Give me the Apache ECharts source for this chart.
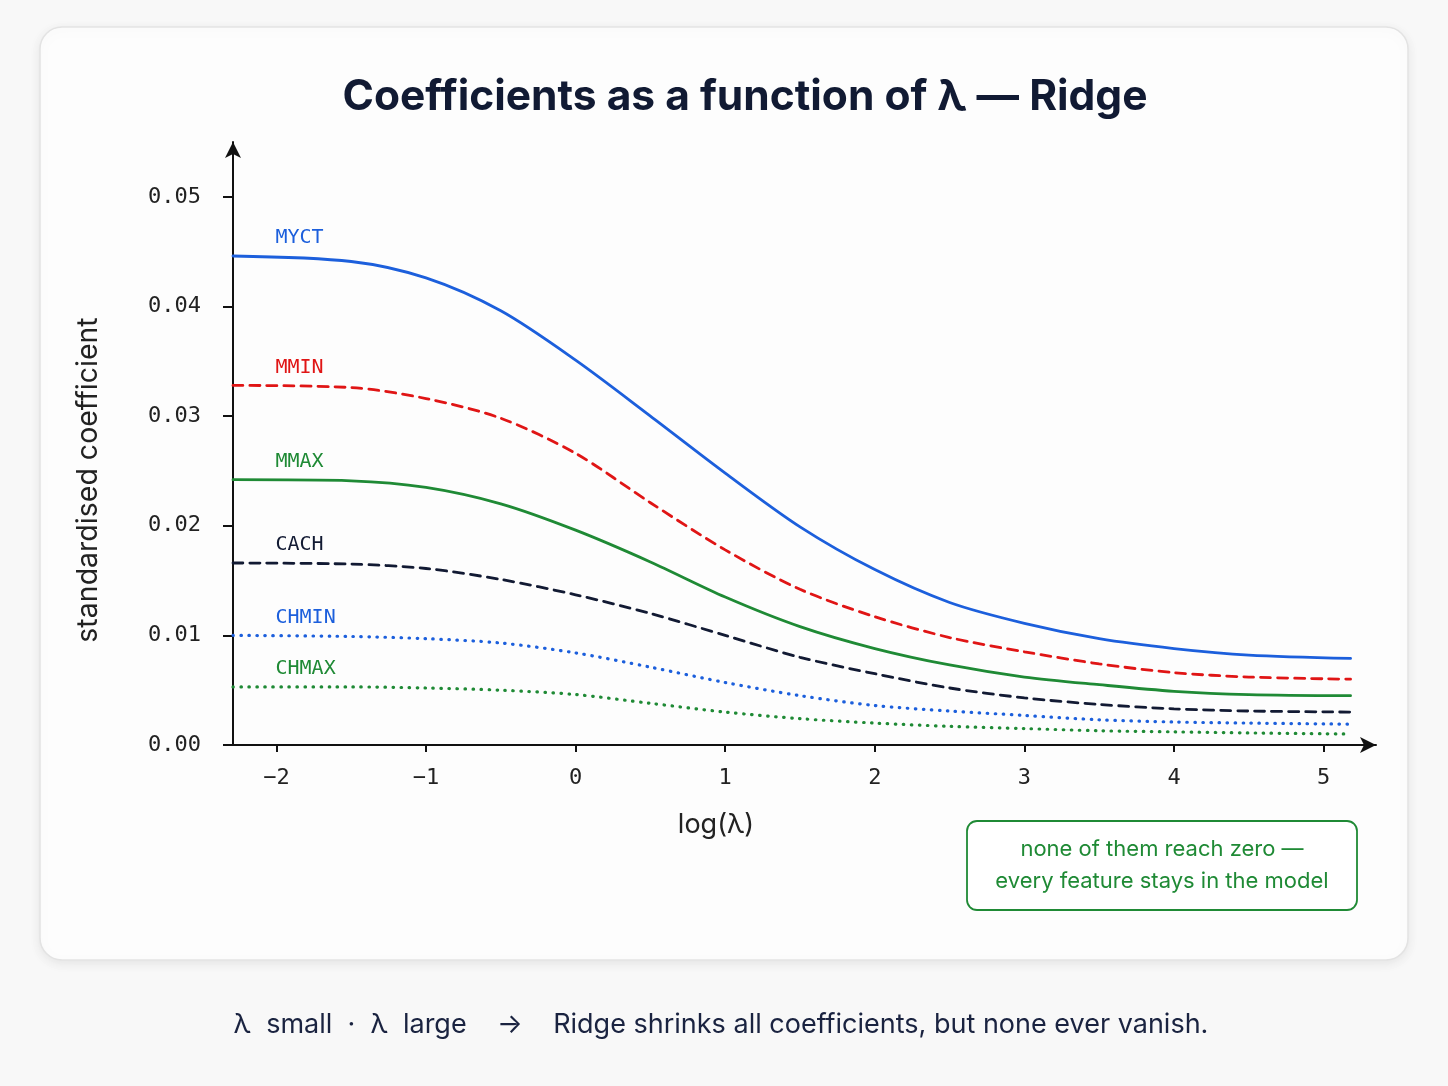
<!DOCTYPE html>
<html>
<head>
<meta charset="utf-8">
<script src="https://cdn.jsdelivr.net/npm/echarts@6/dist/echarts.min.js"></script>
<style>
  html, body { margin: 0; padding: 0; background: #f8f8f8; }
  #main { width: 1448px; height: 1086px; }
</style>
</head>
<body>
<div id="main"></div>
<script>
// log(lambda) sample positions
var logLambda = [-2.29, -1.5, -1, -0.5, 0, 0.5, 1, 1.5, 2, 2.5, 3, 3.5, 4, 4.5, 5.18];

// coefficient paths
var MYCT  = [0.0446, 0.0441, 0.0426, 0.0396, 0.0351, 0.0300, 0.0248, 0.0199, 0.0160, 0.0130, 0.0111, 0.0097, 0.0088, 0.0082, 0.0079];
var MMIN  = [0.0328, 0.0326, 0.0316, 0.0298, 0.0266, 0.0221, 0.0178, 0.0142, 0.0117, 0.0098, 0.0085, 0.0074, 0.0066, 0.0062, 0.0060];
var MMAX  = [0.0242, 0.0241, 0.0235, 0.0220, 0.0196, 0.0167, 0.0135, 0.0108, 0.0088, 0.0073, 0.0062, 0.0055, 0.0049, 0.0046, 0.0045];
var CACH  = [0.0166, 0.0165, 0.0161, 0.0151, 0.0137, 0.0120, 0.0100, 0.0080, 0.0065, 0.0052, 0.0043, 0.0037, 0.0033, 0.0031, 0.0030];
var CHMIN = [0.0100, 0.0099, 0.0097, 0.0093, 0.0084, 0.0071, 0.0057, 0.0045, 0.0036, 0.0031, 0.0027, 0.0023, 0.0021, 0.0020, 0.0019];
var CHMAX = [0.0053, 0.0053, 0.0052, 0.0050, 0.0046, 0.0038, 0.0030, 0.0024, 0.0020, 0.0017, 0.0015, 0.0013, 0.0012, 0.0011, 0.0010];

var xTicks = [-2, -1, 0, 1, 2, 3, 4, 5];
var yTicks = [0, 0.01, 0.02, 0.03, 0.04, 0.05];

var MONO = '"DejaVu Sans Mono", monospace';
var SANS = 'Inter, "Noto Sans", sans-serif';

function makeSeries(name, values, color, lineType, width) {
  return {
    name: name,
    type: 'line',
    smooth: 0.3,
    showSymbol: false,
    silent: true,
    data: logLambda.map(function (x, i) { return [x, values[i]]; }),
    lineStyle: { color: color, width: width, type: lineType, cap: 'round' },
    markPoint: {
      symbol: 'circle',
      symbolSize: 1,
      itemStyle: { color: 'rgba(0,0,0,0)' },
      label: {
        show: true,
        position: 'right',
        offset: [37, -18],
        formatter: name,
        color: color,
        fontFamily: MONO,
        fontSize: 20
      },
      data: [{ coord: [logLambda[0], values[0]] }]
    }
  };
}

var chart = echarts.init(document.getElementById('main'));

var option = {
  backgroundColor: '#f8f8f8',
  animation: false,
  title: {
    text: 'Coefficients as a function of λ — Ridge',
    left: 740,
    top: 71,
    textAlign: 'center',
    textStyle: { fontFamily: SANS, fontWeight: 700, fontSize: 42.5, color: '#111a33' }
  },
  grid: { left: 233, right: 72, top: 142, bottom: 341 },
  xAxis: {
    type: 'value',
    min: -2.29,
    max: 5.35,
    axisLine: {
      show: true,
      onZero: false,
      symbol: ['none', 'arrow'],
      symbolSize: [12, 16],
      lineStyle: { color: '#111', width: 2 }
    },
    axisTick: {
      show: true,
      length: 7,
      customValues: xTicks,
      lineStyle: { color: '#111', width: 2 }
    },
    axisLabel: {
      customValues: xTicks,
      margin: 22,
      fontFamily: MONO,
      fontSize: 22,
      color: '#222',
      formatter: function (v) { return v < 0 ? '−' + Math.abs(v) : String(v); }
    },
    splitLine: { show: false }
  },
  yAxis: {
    type: 'value',
    min: 0,
    max: 0.055,
    axisLine: {
      show: true,
      onZero: false,
      symbol: ['none', 'arrow'],
      symbolSize: [12, 16],
      lineStyle: { color: '#111', width: 2 }
    },
    axisTick: {
      show: true,
      length: 10,
      customValues: yTicks,
      lineStyle: { color: '#111', width: 2 }
    },
    axisLabel: {
      customValues: yTicks,
      margin: 32,
      fontFamily: MONO,
      fontSize: 22,
      color: '#222',
      formatter: function (v) { return v.toFixed(2); }
    },
    splitLine: { show: false }
  },
  graphic: [
    {
      type: 'rect',
      z: -10,
      shape: { x: 40, y: 27, width: 1368, height: 933, r: 22 },
      style: {
        fill: '#fdfdfd',
        stroke: '#e3e3e3',
        lineWidth: 1.5,
        shadowBlur: 12,
        shadowColor: 'rgba(0,0,0,0.08)',
        shadowOffsetY: 3
      }
    },
    {
      type: 'text',
      x: 88,
      y: 480,
      rotation: Math.PI / 2,
      style: {
        text: 'standardised coefficient',
        fontFamily: SANS,
        fontSize: 28.5,
        fill: '#222',
        align: 'center',
        verticalAlign: 'middle'
      }
    },
    {
      type: 'text',
      x: 716,
      y: 825,
      style: {
        text: 'log(λ)',
        fontFamily: SANS,
        fontSize: 27,
        fill: '#222',
        align: 'center',
        verticalAlign: 'middle'
      }
    },
    {
      type: 'rect',
      shape: { x: 967, y: 821, width: 390, height: 89, r: 10 },
      style: { fill: '#ffffff', stroke: '#1f8a35', lineWidth: 1.8 }
    },
    {
      type: 'text',
      x: 1162,
      y: 865,
      style: {
        text: 'none of them reach zero —\nevery feature stays in the model',
        fontFamily: SANS,
        fontSize: 22,
        lineHeight: 32,
        fill: '#1f8a35',
        align: 'center',
        verticalAlign: 'middle'
      }
    },
    {
      type: 'text',
      x: 721,
      y: 1025,
      style: {
        text: 'λ  small  ·  λ  large    →    Ridge shrinks all coefficients, but none ever vanish.',
        fontFamily: SANS,
        fontSize: 27,
        fill: '#1a2340',
        align: 'center',
        verticalAlign: 'middle'
      }
    }
  ],
  series: [
    makeSeries('MYCT', MYCT, '#1c5fdc', 'solid', 2.8),
    makeSeries('MMIN', MMIN, '#e01515', [10, 7], 2.8),
    makeSeries('MMAX', MMAX, '#1f8a35', 'solid', 2.8),
    makeSeries('CACH', CACH, '#121a33', [10, 7], 2.8),
    makeSeries('CHMIN', CHMIN, '#1c5fdc', [0.5, 7.5], 3.2),
    makeSeries('CHMAX', CHMAX, '#1f8a35', [0.5, 7.5], 3.2)
  ]
};

chart.setOption(option);
</script>
</body>
</html>
